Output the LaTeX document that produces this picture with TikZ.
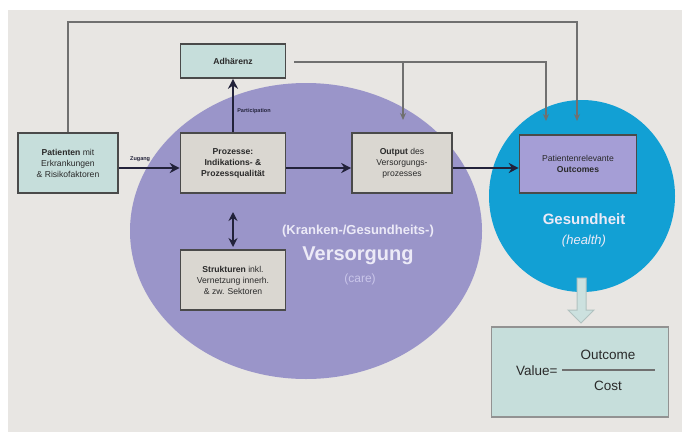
\documentclass[tikz,border=0pt]{standalone}
\usepackage{fontspec}
\setmainfont{Liberation Sans}
\usetikzlibrary{arrows.meta}
\definecolor{bgpanel}{HTML}{E8E6E3}
\definecolor{lav}{HTML}{9A95C9}
\definecolor{skyb}{HTML}{12A0D4}
\definecolor{tealbox}{HTML}{C6DEDB}
\definecolor{graybox}{HTML}{DAD7D1}
\definecolor{outcbox}{HTML}{A59ED6}
\definecolor{boxline}{HTML}{4A4A4A}
\definecolor{txt}{HTML}{2A2A2A}
\definecolor{conn}{HTML}{707070}
\definecolor{darkarr}{HTML}{22223A}
\definecolor{vers}{HTML}{ECEAF7}
\definecolor{care}{HTML}{CAC6EA}
\tikzset{
  x=1pt, y=-1pt,
  box/.style={draw=boxline, line width=1.6pt, text=txt, align=center, inner sep=1pt,
    font=\fontsize{8.6}{11}\selectfont},
  tbox/.style={box, fill=tealbox},
  gbox/.style={box, fill=graybox},
  thin conn/.style={draw=conn, line width=1.5pt},
  thin arr/.style={thin conn, -{Stealth[length=7pt,width=6pt]}},
  dark arr/.style={draw=darkarr, line width=2.6pt, -{Stealth[length=10pt,width=10pt]}},
  tiny/.style={font=\fontsize{5.5}{6}\selectfont\bfseries, text=darkarr, inner sep=0pt},
}
\begin{document}
\begin{tikzpicture}
\useasboundingbox[fill=white] (0,0) rectangle (682,434);
\fill[bgpanel] (8,10) rectangle (682,432);

% big shapes
\fill[lav] (306,231) ellipse [x radius=176, y radius=148];
\fill[skyb] (582,196) ellipse [x radius=93, y radius=96];

% nodes
\node[tbox, minimum width=100, minimum height=60] (pat) at (68,163)
  {\textbf{Patienten} mit\\Erkrankungen\\\& Risikofaktoren};
\node[gbox, minimum width=105, minimum height=60] (proz) at (233,163)
  {\textbf{Prozesse:}\\\textbf{Indikations- \&}\\\textbf{Prozessqualität}};
\node[tbox, minimum width=105, minimum height=34] (adh) at (233,61)
  {\textbf{Adhärenz}};
\node[gbox, minimum width=100, minimum height=60] (out) at (402,163)
  {\textbf{Output} des\\Versorgungs-\\prozesses};
\node[box, fill=outcbox, minimum width=117, minimum height=58] (outc) at (578,164)
  {Patientenrelevante\\\textbf{Outcomes}};
\node[gbox, minimum width=105, minimum height=60] (str) at (233,280)
  {\textbf{Strukturen} inkl.\\Vernetzung innerh.\\\& zw. Sektoren};
\node[draw=boxline!60, line width=1.2pt, fill=tealbox, minimum width=177, minimum height=90] (val) at (580,372) {};

% labels in shapes
\node[text=vers, font=\fontsize{13}{15}\selectfont\bfseries] (kg) at (358,231) {(Kranken-/Gesundheits-)};
\node[text=vers, font=\fontsize{20}{22}\selectfont\bfseries] (vs) at (358,256) {Versorgung};
\node[text=care, font=\fontsize{12}{14}\selectfont] (cr) at (360,279) {(care)};
\node[text=vers, font=\fontsize{15}{17}\selectfont\bfseries] (ges) at (584,219) {Gesundheit};
\node[text=vers, font=\fontsize{13}{15}\selectfont\itshape] (hl) at (584,241) {(health)};

% value formula
\node[text=txt, font=\fontsize{13.5}{15}\selectfont, anchor=east] (vl) at (561,371) {Value=};
\node[text=txt, font=\fontsize{13.5}{15}\selectfont] (oc) at (608,355) {Outcome};
\node[text=txt, font=\fontsize{13.5}{15}\selectfont] (co) at (608,386) {Cost};
\coordinate (fl) at (562,370);
\coordinate (fr) at (655,370);
\draw[conn, line width=2pt] (fl) -- (fr);

% down block arrow
\coordinate (dtip) at (581,323);
\filldraw[fill=tealbox!90!white, draw=tealbox!70!gray, line width=1pt]
  (577,278) -- (586,278) -- (586,310) -- (594,310) -- (dtip) -- (568,310) -- (577,310) -- cycle;

% gray feedback lines
\coordinate (t1) at (68,22);
\coordinate (t2) at (577,22);
\coordinate (t3) at (577,121);
\draw[thin arr] (pat.north) -- (t1) -- (t2) -- (t3);
\coordinate (a0) at (294,62);
\coordinate (a1) at (546,62);
\coordinate (a2) at (546,121);
\coordinate (b1) at (403,62);
\coordinate (b2) at (403,120);
\draw[thin arr] (a0) -- (a1) -- (a2);
\draw[thin arr] (b1) -- (b2);

% dark arrows
\draw[dark arr] (pat.east |- 0,168) -- node[tiny, above=5pt, pos=0.35] {Zugang} (proz.west |- 0,168);
\draw[dark arr] (proz.north) -- node[tiny, right=3pt, pos=0.4] {Participation} (adh.south);
\draw[dark arr] (proz.east |- 0,168) -- (out.west |- 0,168);
\draw[dark arr] (out.east |- 0,168) -- (outc.west |- 0,168);
\coordinate (d1) at (233,212);
\coordinate (d2) at (233,247);
\draw[dark arr, {Stealth[length=9pt,width=9pt]}-{Stealth[length=9pt,width=9pt]}] (d1) -- (d2);
\end{tikzpicture}
\end{document}
